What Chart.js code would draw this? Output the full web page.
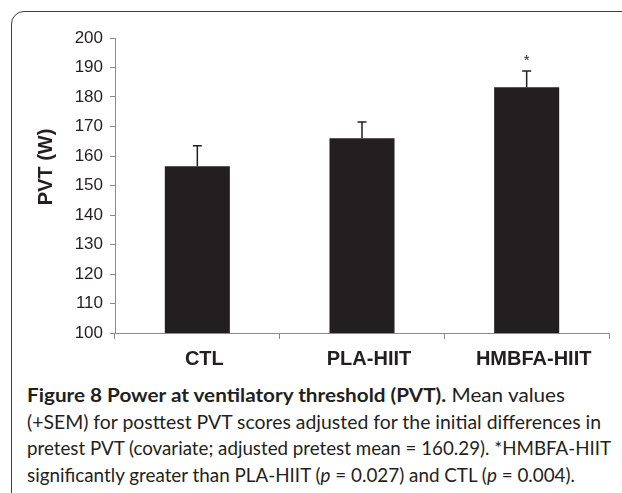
<!DOCTYPE html>
<html>
<head>
<meta charset="utf-8">
<script src="https://cdn.jsdelivr.net/npm/chart.js@4"></script>
<style>
  body { margin: 0; background: #fff; width: 622px; height: 493px; overflow: hidden; position: relative; }
  #frame { position: absolute; left: 11px; top: 11px; width: 700px; height: 600px;
           border: 1.5px solid #3b3b3b; border-radius: 13px; }
  #wrap { position: absolute; left: 0; top: 0; width: 622px; height: 380px; }
  #caption { position: absolute; left: 27px; top: 382px; font-family: Lato, sans-serif;
             font-size: 18.5px; line-height: 26.7px; color: #231f20; }
  .line { white-space: nowrap; }
  .line span.in { display: inline-block; transform-origin: left center; }
</style>
</head>
<body>
<div id="frame"></div>
<div id="wrap"><canvas id="pvtChart" width="622" height="380"></canvas></div>
<div id="caption">
  <div class="line"><span class="in"><b>Figure 8 Power at ventilatory threshold (PVT).</b> Mean values</span></div>
  <div class="line"><span class="in">(+SEM) for posttest PVT scores adjusted for the initial differences in</span></div>
  <div class="line"><span class="in">pretest PVT (covariate; adjusted pretest mean = 160.29). *HMBFA-HIIT</span></div>
  <div class="line"><span class="in">significantly greater than PLA-HIIT (<i>p</i> = 0.027) and CTL (<i>p</i> = 0.004).</span></div>
</div>
<script>
const categories = ['CTL', 'PLA-HIIT', 'HMBFA-HIIT'];
const means = [156.5, 166.0, 183.3];
const sem = [7.0, 5.5, 5.5];
const significant = [false, false, true];
const yMin = 100, yMax = 200, yStep = 10;

// caption lines: stretch each to the width it has in the figure
const lineWidths = [538, 574, 584, 548];
document.querySelectorAll('#caption .in').forEach((el, i) => {
    const w = el.getBoundingClientRect().width;
    el.style.transform = 'scaleX(' + (lineWidths[i] / w) + ')';
});

const axisGrey = '#8a8a8a';
const ink = '#231f20';

const errorBars = {
    id: 'errorBars',
    afterDatasetsDraw(chart) {
        const ctx = chart.ctx;
        const y = chart.scales.y;
        const meta = chart.getDatasetMeta(0);
        ctx.save();
        ctx.strokeStyle = ink;
        ctx.lineWidth = 1.5;
        meta.data.forEach((bar, i) => {
            const top = y.getPixelForValue(means[i] + sem[i]);
            ctx.beginPath();
            ctx.moveTo(bar.x, bar.y);
            ctx.lineTo(bar.x, top);
            ctx.moveTo(bar.x - 4.5, top);
            ctx.lineTo(bar.x + 4.5, top);
            ctx.stroke();
            if (significant[i]) {
                ctx.fillStyle = ink;
                ctx.font = '15px "Liberation Sans"';
                ctx.textAlign = 'center';
                ctx.textBaseline = 'middle';
                ctx.fillText('*', bar.x, top - 10);
            }
        });
        ctx.restore();
    }
};

const yTitle = {
    id: 'yTitle',
    afterDraw(chart) {
        const ctx = chart.ctx;
        ctx.save();
        ctx.translate(46, 167);
        ctx.rotate(-Math.PI / 2);
        ctx.fillStyle = ink;
        ctx.font = 'bold 20px "Liberation Sans"';
        ctx.textAlign = 'center';
        ctx.textBaseline = 'middle';
        ctx.fillText('PVT (W)', 0, 0);
        ctx.restore();
    }
};

new Chart(document.getElementById('pvtChart'), {
    type: 'bar',
    data: {
        labels: categories,
        datasets: [{
            data: means,
            backgroundColor: ink,
            borderWidth: 0,
            categoryPercentage: 1,
            barPercentage: 0.395
        }]
    },
    options: {
        responsive: false,
        animation: false,
        layout: { padding: { top: 38, right: 13, left: 0, bottom: 0 } },
        plugins: { legend: { display: false }, tooltip: { enabled: false } },
        scales: {
            x: {
                grid: { display: true, drawOnChartArea: false, offset: true, tickLength: 6, color: axisGrey },
                border: { color: axisGrey, width: 1 },
                ticks: {
                    color: ink,
                    padding: 8,
                    labelOffset: 7,
                    font: { family: 'Liberation Sans', weight: 'bold', size: 20 }
                },
                afterFit(scale) { scale.height = 47; }
            },
            y: {
                min: yMin,
                max: yMax,
                grid: { display: true, drawOnChartArea: false, tickLength: 5, color: axisGrey },
                border: { color: axisGrey, width: 1 },
                ticks: {
                    stepSize: yStep,
                    color: ink,
                    padding: 7,
                    font: { family: 'Liberation Sans', size: 17 }
                },
                afterFit(scale) { scale.width = 115; }
            }
        }
    },
    plugins: [errorBars, yTitle]
});
</script>
</body>
</html>
